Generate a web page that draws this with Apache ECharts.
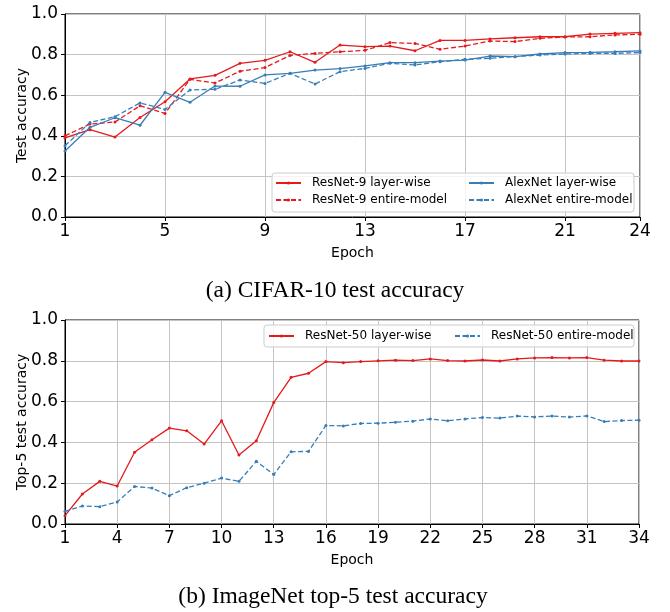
<!DOCTYPE html>
<html>
<head>
<meta charset="utf-8">
<script src="https://cdn.jsdelivr.net/npm/echarts@6/dist/echarts.min.js"></script>
<style>
html, body { margin: 0; padding: 0; background: #fff; }
#chart-0 { width: 670px; height: 612px; }
</style>
</head>
<body>
<div id="chart-0"></div>
<script>
// (a) CIFAR-10
var epochsA = ['1','2','3','4','5','6','7','8','9','10','11','12','13','14','15','16','17','18','19','20','21','22','23','24'];
var resnet9Layer = [0.390,0.430,0.394,0.490,0.568,0.680,0.698,0.757,0.772,0.814,0.762,0.847,0.839,0.842,0.819,0.870,0.870,0.877,0.883,0.888,0.888,0.901,0.905,0.908];
var resnet9Entire = [0.400,0.458,0.468,0.548,0.510,0.678,0.660,0.718,0.736,0.796,0.806,0.814,0.821,0.859,0.855,0.826,0.842,0.867,0.864,0.880,0.887,0.888,0.897,0.900];
var alexLayer = [0.325,0.442,0.489,0.452,0.614,0.565,0.645,0.644,0.700,0.708,0.724,0.731,0.744,0.760,0.760,0.768,0.773,0.793,0.790,0.803,0.810,0.811,0.814,0.818];
var alexEntire = [0.351,0.466,0.494,0.562,0.530,0.626,0.629,0.675,0.658,0.708,0.655,0.716,0.732,0.757,0.749,0.765,0.777,0.782,0.790,0.798,0.803,0.806,0.806,0.810];

// (b) ImageNet
var epochsB = ['1','2','3','4','5','6','7','8','9','10','11','12','13','14','15','16','17','18','19','20','21','22','23','24','25','26','27','28','29','30','31','32','33','34'];
var resnet50Layer = [0.041,0.147,0.209,0.186,0.352,0.413,0.470,0.457,0.392,0.506,0.338,0.408,0.595,0.719,0.739,0.796,0.791,0.796,0.800,0.803,0.801,0.809,0.801,0.799,0.804,0.799,0.809,0.814,0.816,0.814,0.816,0.803,0.799,0.799];
var resnet50Entire = [0.062,0.088,0.085,0.108,0.184,0.176,0.139,0.178,0.200,0.225,0.209,0.307,0.243,0.354,0.356,0.483,0.481,0.493,0.494,0.499,0.504,0.515,0.506,0.515,0.522,0.519,0.529,0.525,0.529,0.524,0.530,0.502,0.507,0.509];

var red = '#e41a1c';
var blue = '#377eb8';
var font = 'DejaVu Sans';

function showA(i) { return i % 4 === 0 || i === epochsA.length - 1; }
function showB(i) { return i % 3 === 0; }

function xAxis(grid, cats, fn) {
    return {
        type: 'category',
        gridIndex: grid,
        data: cats,
        boundaryGap: false,
        name: 'Epoch',
        nameLocation: 'middle',
        nameGap: 29,
        nameTextStyle: { fontFamily: font, fontSize: 14, color: '#000' },
        axisLine: { lineStyle: { color: '#000', width: 1 } },
        axisTick: { interval: fn, length: 4, lineStyle: { color: '#000' } },
        axisLabel: { interval: fn, fontFamily: font, fontSize: 17, color: '#000', margin: 6 },
        splitLine: { show: true, interval: fn, lineStyle: { color: '#c4c4c4', width: 1 } }
    };
}

function yAxis(grid, name) {
    return {
        type: 'value',
        gridIndex: grid,
        min: 0,
        max: 1,
        interval: 0.2,
        name: name,
        nameLocation: 'middle',
        nameGap: 36,
        nameMoveOverlap: false,
        nameTextStyle: { fontFamily: font, fontSize: 14, color: '#000' },
        axisLine: { show: true, lineStyle: { color: '#000', width: 1 } },
        axisTick: { show: true, length: 4, lineStyle: { color: '#000' } },
        axisLabel: {
            fontFamily: font, fontSize: 17, color: '#000', margin: 7,
            formatter: function(v) { return v.toFixed(1); }
        },
        splitLine: { show: true, lineStyle: { color: '#c4c4c4', width: 1 } }
    };
}

function line(name, data, color, dashed, axis) {
    return {
        name: name,
        type: 'line',
        xAxisIndex: axis,
        yAxisIndex: axis,
        data: data,
        symbol: 'circle',
        symbolSize: 3,
        showSymbol: true,
        color: color,
        itemStyle: { color: color },
        lineStyle: { color: color, width: 1.3, type: dashed ? [5, 2.5] : 'solid' },
        z: 2
    };
}

function legend(left, top, orient, names, gap, textWidth) {
    return {
        left: left,
        top: top,
        orient: orient,
        data: names,
        itemWidth: 25,
        itemHeight: 4,
        itemGap: gap,
        padding: 0,
        z: 5,
        selectedMode: false,
        textStyle: { fontFamily: font, fontSize: 12, color: '#000', lineHeight: 14, width: textWidth, padding: [0, 0, 0, 6] }
    };
}

var chart = echarts.init(document.getElementById('chart-0'));
var option = {
    animation: false,
    backgroundColor: '#fff',
    title: [
        { text: '(a) CIFAR-10 test accuracy', left: 330, top: 274, textAlign: 'center',
          textStyle: { fontFamily: 'Liberation Serif', fontSize: 23.5, fontWeight: 'normal', color: '#000' } },
        { text: '(b) ImageNet top-5 test accuracy', left: 328, top: 580, textAlign: 'center',
          textStyle: { fontFamily: 'Liberation Serif', fontSize: 23.5, fontWeight: 'normal', color: '#000' } }
    ],
    grid: [
        { left: 65, right: 30, top: 14, height: 203, show: true, borderColor: '#000', borderWidth: 1, backgroundColor: 'transparent' },
        { left: 65, right: 31, top: 320, height: 204, show: true, borderColor: '#000', borderWidth: 1, backgroundColor: 'transparent' }
    ],
    xAxis: [xAxis(0, epochsA, showA), xAxis(1, epochsB, showB)],
    yAxis: [yAxis(0, 'Test accuracy'), yAxis(1, 'Top-5 test accuracy')],
    legend: [
        legend(275, 176, 'vertical', ['ResNet-9 layer-wise', 'ResNet-9 entire-model'], 3),
        legend(468, 176, 'vertical', ['AlexNet layer-wise', 'AlexNet entire-model'], 3),
        legend(268, 329, 'horizontal', ['ResNet-50 layer-wise', 'ResNet-50 entire-model'], 1, 148)
    ],
    graphic: [
        { type: 'rect', z: 4, shape: { x: 272, y: 173, width: 362, height: 39, r: 3 },
          style: { fill: 'rgba(255,255,255,0.8)', stroke: '#cccccc', lineWidth: 1 } },
        { type: 'rect', z: 4, shape: { x: 264, y: 325, width: 370, height: 22, r: 3 },
          style: { fill: 'rgba(255,255,255,0.8)', stroke: '#cccccc', lineWidth: 1 } }
    ],
    series: [
        line('ResNet-9 layer-wise', resnet9Layer, red, false, 0),
        line('ResNet-9 entire-model', resnet9Entire, red, true, 0),
        line('AlexNet layer-wise', alexLayer, blue, false, 0),
        line('AlexNet entire-model', alexEntire, blue, true, 0),
        line('ResNet-50 layer-wise', resnet50Layer, red, false, 1),
        line('ResNet-50 entire-model', resnet50Entire, blue, true, 1)
    ]
};
chart.setOption(option);
</script>
</body>
</html>
